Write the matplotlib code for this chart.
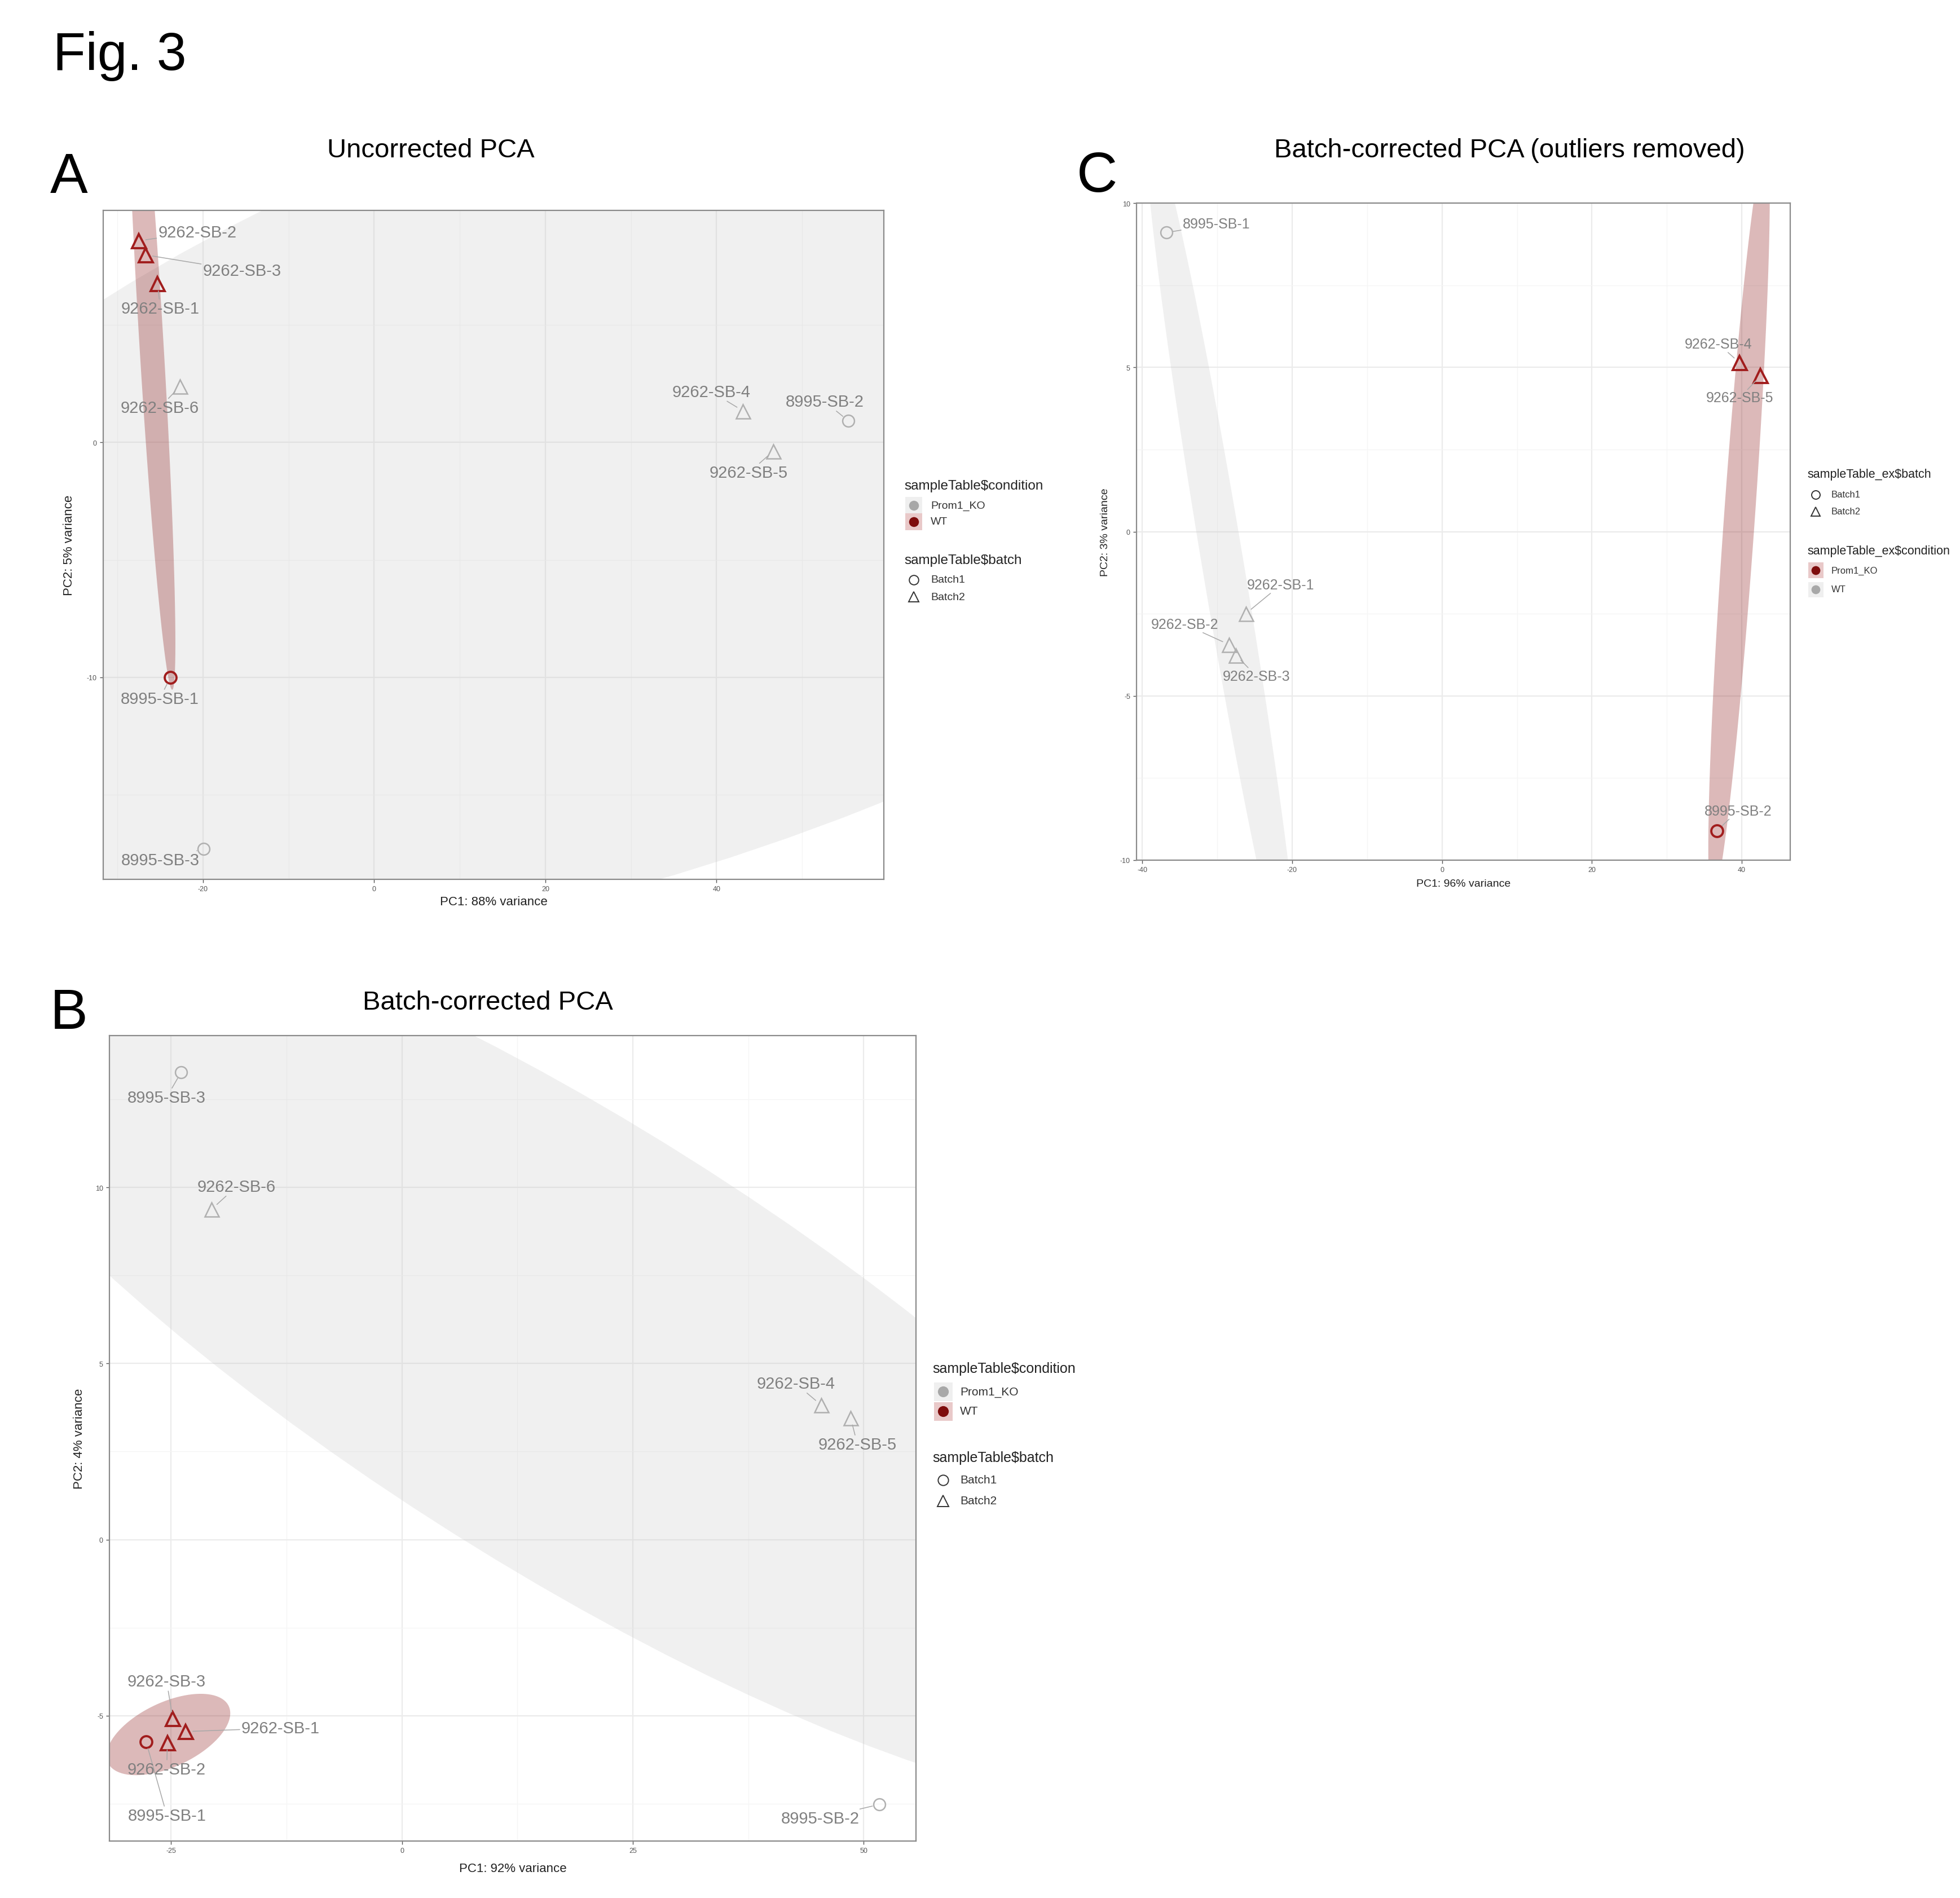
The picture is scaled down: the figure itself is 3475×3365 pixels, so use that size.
import numpy as np
import matplotlib
matplotlib.use("Agg")
import matplotlib.pyplot as plt
from matplotlib.lines import Line2D
from matplotlib.patches import Rectangle
from matplotlib.ticker import MultipleLocator, FormatStrFormatter

plt.rcParams['font.family'] = ['Liberation Sans', 'DejaVu Sans']
plt.rcParams['axes.unicode_minus'] = False

W, H = 3475, 3366

# --- data ---------------------------------------------------------------
samples_ab = ['8995-SB-1', '8995-SB-2', '8995-SB-3', '9262-SB-1', '9262-SB-2',
              '9262-SB-3', '9262-SB-4', '9262-SB-5', '9262-SB-6']
condition_ab = ['WT', 'Prom1_KO', 'Prom1_KO', 'WT', 'WT', 'WT',
                'Prom1_KO', 'Prom1_KO', 'Prom1_KO']
batch_ab = ['Batch1', 'Batch1', 'Batch1', 'Batch2', 'Batch2', 'Batch2',
            'Batch2', 'Batch2', 'Batch2']

# uncorrected PCA
pc1_a = [-23.8, 55.4, -19.9, -25.3, -27.5, -26.7, 43.1, 46.6, -22.7]
pc2_a = [-10.0, 0.92, -17.3, 6.75, 8.58, 7.98, 1.34, -0.38, 2.38]

# batch-corrected PCA
pc1_b = [-27.7, 51.7, -23.9, -23.4, -25.4, -24.8, 45.4, 48.6, -20.6]
pc2_b = [-5.74, -7.52, 13.27, -5.45, -5.77, -5.09, 3.82, 3.45, 9.38]

# batch-corrected PCA, outliers removed
samples_c = ['8995-SB-1', '8995-SB-2', '9262-SB-1', '9262-SB-2', '9262-SB-3',
             '9262-SB-4', '9262-SB-5']
condition_c = ['WT', 'Prom1_KO', 'WT', 'WT', 'WT', 'Prom1_KO', 'Prom1_KO']
batch_c = ['Batch1', 'Batch1', 'Batch2', 'Batch2', 'Batch2', 'Batch2', 'Batch2']
pc1_c = [-36.8, 36.7, -26.2, -28.4, -27.5, 39.7, 42.5]
pc2_c = [9.1, -9.1, -2.5, -3.44, -3.76, 5.14, 4.74]

# label offsets (pixels, right / up) like ggrepel put them
lab_off_a = {'9262-SB-2': (104, 15), '9262-SB-3': (171, -28), '9262-SB-1': (5, -44),
             '9262-SB-6': (-36, -38), '8995-SB-1': (-19, -38), '8995-SB-3': (-77, -20),
             '9262-SB-4': (-56, 34), '8995-SB-2': (-42, 34), '9262-SB-5': (-43, -38)}
lab_off_b = {'8995-SB-3': (-26, -45), '9262-SB-6': (44, 40), '9262-SB-4': (-45, 38),
             '9262-SB-5': (12, -47), '8995-SB-2': (-105, -25), '9262-SB-3': (-11, 66),
             '9262-SB-1': (168, 6), '9262-SB-2': (-1, -47), '8995-SB-1': (37, -131)}
lab_off_c = {'8995-SB-1': (89, 15), '9262-SB-1': (62, 51), '9262-SB-2': (-79, 36),
             '9262-SB-3': (36, -37), '9262-SB-4': (-37, 33), '9262-SB-5': (-37, -39),
             '8995-SB-2': (37, 35)}

# ellipse confidence level per condition group (picked to look like the figure)
level_a = {'Prom1_KO': 0.95, 'WT': 0.75}
level_b = {'Prom1_KO': 0.78, 'WT': 0.95}
level_c = {'Prom1_KO': 0.60, 'WT': 0.85}

RED = '#A11D1D'
RED_KEY = '#7E0C0C'
GRAY = '#B0B0B0'
GRAY_KEY = '#A8A8A8'
RED_FILL = ('#8B1A1A', 0.30)
GRAY_FILL = ('#BEBEBE', 0.22)
LABEL_COL = '#808080'


def cov_trob(x, nu=5, maxit=25, tol=0.01):
    # same iteration as MASS::cov.trob (used by stat_ellipse type "t")
    n, p = x.shape
    wt = np.ones(n)
    loc = x.mean(axis=0)
    w = np.sqrt(wt)
    for _ in range(maxit):
        w0 = w
        X = x - loc
        _, d, vt = np.linalg.svd(np.sqrt(w / w.sum())[:, None] * X, full_matrices=False)
        wX = X @ vt.T @ np.diag(1 / d)
        Q = (wX ** 2).sum(axis=1)
        w = wt * (nu + p) / (nu + Q)
        loc = (w[:, None] * x).sum(axis=0) / w.sum()
        if np.all(np.abs(w - w0) < tol):
            break
    sX = np.sqrt(w)[:, None] * X
    return loc, sX.T @ sX / wt.sum()


def t_ellipse(x, y, level=0.95, segments=101):
    pts = np.column_stack([x, y])
    center, shape = cov_trob(pts)
    dfd = len(pts) - 1
    fq = dfd / 2 * ((1 - level) ** (-2 / dfd) - 1)   # qf(level, 2, dfd)
    radius = np.sqrt(2 * fq)
    ang = np.linspace(0, 2 * np.pi, segments + 1)
    circ = np.column_stack([np.cos(ang), np.sin(ang)])
    return center + radius * circ @ np.linalg.cholesky(shape).T


def fx(x):
    return x / W


def fy(y):
    return 1 - y / H


def expand(v, mult=0.05):
    lo, hi = min(v), max(v)
    r = hi - lo
    return lo - r * mult, hi + r * mult


def pca_panel(ax, samples, pc1, pc2, cond, batch, red_cond, levels, offsets, label_fs,
              xmaj, ymaj, xlab, ylab, axis_fs, ylim=None, ylab_off=-58, xlab_off=-42):
    pc1 = np.array(pc1)
    pc2 = np.array(pc2)
    cond = np.array(cond)
    # ellipses, factor order Prom1_KO then WT
    for c in ['Prom1_KO', 'WT']:
        m = cond == c
        e = t_ellipse(pc1[m], pc2[m], level=levels[c])
        col, a = RED_FILL if c == red_cond else GRAY_FILL
        ax.fill(e[:, 0], e[:, 1], color=col, alpha=a, lw=0, zorder=1)
    for i, s in enumerate(samples):
        is_red = cond[i] == red_cond
        mk = 'o' if batch[i] == 'Batch1' else '^'
        ax.plot(pc1[i], pc2[i], marker=mk, ms=15 if mk == 'o' else 18,
                mfc='none', mec=RED if is_red else GRAY,
                mew=2.8 if is_red else 1.8, ls='none', zorder=3)
        dx, dy = offsets[s]
        ax.annotate(s, (pc1[i], pc2[i]), xytext=(dx, dy), textcoords='offset pixels',
                    ha='center', va='center', fontsize=label_fs, color=LABEL_COL,
                    zorder=4,
                    arrowprops=dict(arrowstyle='-', color='#A8A8A8', lw=1.1,
                                    shrinkA=0, shrinkB=9))
    ax.set_xlim(expand(pc1))
    ax.set_ylim(ylim if ylim else expand(pc2))
    ax.xaxis.set_major_locator(MultipleLocator(xmaj))
    ax.xaxis.set_minor_locator(MultipleLocator(xmaj / 2))
    ax.yaxis.set_major_locator(MultipleLocator(ymaj))
    ax.yaxis.set_minor_locator(MultipleLocator(ymaj / 2))
    ax.xaxis.set_major_formatter(FormatStrFormatter('%g'))
    ax.yaxis.set_major_formatter(FormatStrFormatter('%g'))
    ax.grid(which='major', color='#EBEBEB', lw=1.6)
    ax.grid(which='minor', color='#F5F5F5', lw=1.0)
    ax.set_axisbelow(True)
    ax.tick_params(which='major', length=4, width=1, color='#555555',
                   labelsize=9, labelcolor='#555555', pad=4)
    ax.tick_params(which='minor', length=0)
    for sp in ax.spines.values():
        sp.set_color('#8A8A8A')
        sp.set_linewidth(1.6)
    ax.annotate(xlab, (0.5, 0), xycoords='axes fraction', xytext=(0, xlab_off),
                textcoords='offset pixels', ha='center', va='center',
                fontsize=axis_fs, color='#222222')
    ax.annotate(ylab, (0, 0.5), xycoords='axes fraction', xytext=(ylab_off, 0),
                textcoords='offset pixels', ha='center', va='center', rotation=90,
                fontsize=axis_fs, color='#222222')


def legend_block(fig, x_title, x_key, x_lab, y_title, rows, title_fs, lab_fs, key_px):
    fig.text(fx(x_title), fy(y_title), rows[0], fontsize=title_fs, color='#222222',
             ha='left', va='center')
    for y, kind, txt in rows[1]:
        if kind in ('red', 'gray'):
            bg = '#E9C9C9' if kind == 'red' else '#EFEFEF'
            fig.add_artist(Rectangle((fx(x_key - key_px / 2), fy(y + key_px / 2)),
                                     key_px / W, key_px / H, transform=fig.transFigure,
                                     fc=bg, ec='none'))
            fig.add_artist(Line2D([fx(x_key)], [fy(y)], transform=fig.transFigure,
                                  marker='o', ms=key_px * 0.42,
                                  mfc=RED_KEY if kind == 'red' else GRAY_KEY,
                                  mec='none', ls='none'))
        else:
            fig.add_artist(Line2D([fx(x_key)], [fy(y)], transform=fig.transFigure,
                                  marker=kind, ms=key_px * 0.4 if kind == 'o' else key_px * 0.45,
                                  mfc='none', mec='#333333', mew=1.4, ls='none'))
        fig.text(fx(x_lab), fy(y), txt, fontsize=lab_fs, color='#333333',
                 ha='left', va='center')


fig = plt.figure(figsize=(W / 100, H / 100), dpi=100)

# panel boxes in pixels: left, right, top, bottom
box_a = (183, 1567, 374, 1560)
box_b = (194, 1624, 1837, 3265)
box_c = (2015, 3174, 361, 1526)


def add_ax(box):
    l, r, t, b = box
    return fig.add_axes([fx(l), fy(b), (r - l) / W, (b - t) / H])


ax_a = add_ax(box_a)
pca_panel(ax_a, samples_ab, pc1_a, pc2_a, condition_ab, batch_ab, 'WT', level_a,
          lab_off_a, 21, 20, 10, 'PC1: 88% variance', 'PC2: 5% variance', 16,
          ylab_off=-60, xlab_off=-40)

ax_b = add_ax(box_b)
pca_panel(ax_b, samples_ab, pc1_b, pc2_b, condition_ab, batch_ab, 'WT', level_b,
          lab_off_b, 21, 25, 5, 'PC1: 92% variance', 'PC2: 4% variance', 16,
          ylab_off=-54, xlab_off=-49)

ax_c = add_ax(box_c)
pca_panel(ax_c, samples_c, pc1_c, pc2_c, condition_c, batch_c, 'Prom1_KO', level_c,
          lab_off_c, 18, 20, 5, 'PC1: 96% variance', 'PC2: 3% variance', 14,
          ylim=(-10, 10), ylab_off=-56, xlab_off=-42)

# legends
legend_block(fig, 1603, 1620, 1650, 862,
             ('sampleTable$condition', [(897, 'gray', 'Prom1_KO'), (926, 'red', 'WT')]),
             17.5, 14, 30)
legend_block(fig, 1603, 1620, 1650, 994,
             ('sampleTable$batch', [(1029, 'o', 'Batch1'), (1059, '^', 'Batch2')]),
             17.5, 14, 30)

legend_block(fig, 1653, 1672, 1702, 2427,
             ('sampleTable$condition', [(2468, 'gray', 'Prom1_KO'), (2503, 'red', 'WT')]),
             18, 15, 33)
legend_block(fig, 1653, 1672, 1702, 2585,
             ('sampleTable$batch', [(2625, 'o', 'Batch1'), (2662, '^', 'Batch2')]),
             18, 15, 33)

legend_block(fig, 3204, 3219, 3247, 841,
             ('sampleTable_ex$batch', [(878, 'o', 'Batch1'), (908, '^', 'Batch2')]),
             15.5, 12, 27)
legend_block(fig, 3204, 3219, 3247, 978,
             ('sampleTable_ex$condition', [(1012, 'red', 'Prom1_KO'), (1046, 'gray', 'WT')]),
             15.5, 12, 27)

# titles and panel letters
fig.text(fx(94), fy(100), 'Fig. 3', fontsize=68, ha='left', va='center')
fig.text(fx(89), fy(316), 'A', fontsize=72, ha='left', va='center')
fig.text(fx(1909), fy(314), 'C', fontsize=72, ha='left', va='center')
fig.text(fx(89), fy(1798), 'B', fontsize=72, ha='left', va='center')
fig.text(fx(764), fy(267), 'Uncorrected PCA', fontsize=34, ha='center', va='center')
fig.text(fx(2676), fy(267), 'Batch-corrected PCA (outliers removed)', fontsize=34,
         ha='center', va='center')
fig.text(fx(865), fy(1778), 'Batch-corrected PCA', fontsize=34, ha='center', va='center')

fig.savefig('out.png', dpi=100)
